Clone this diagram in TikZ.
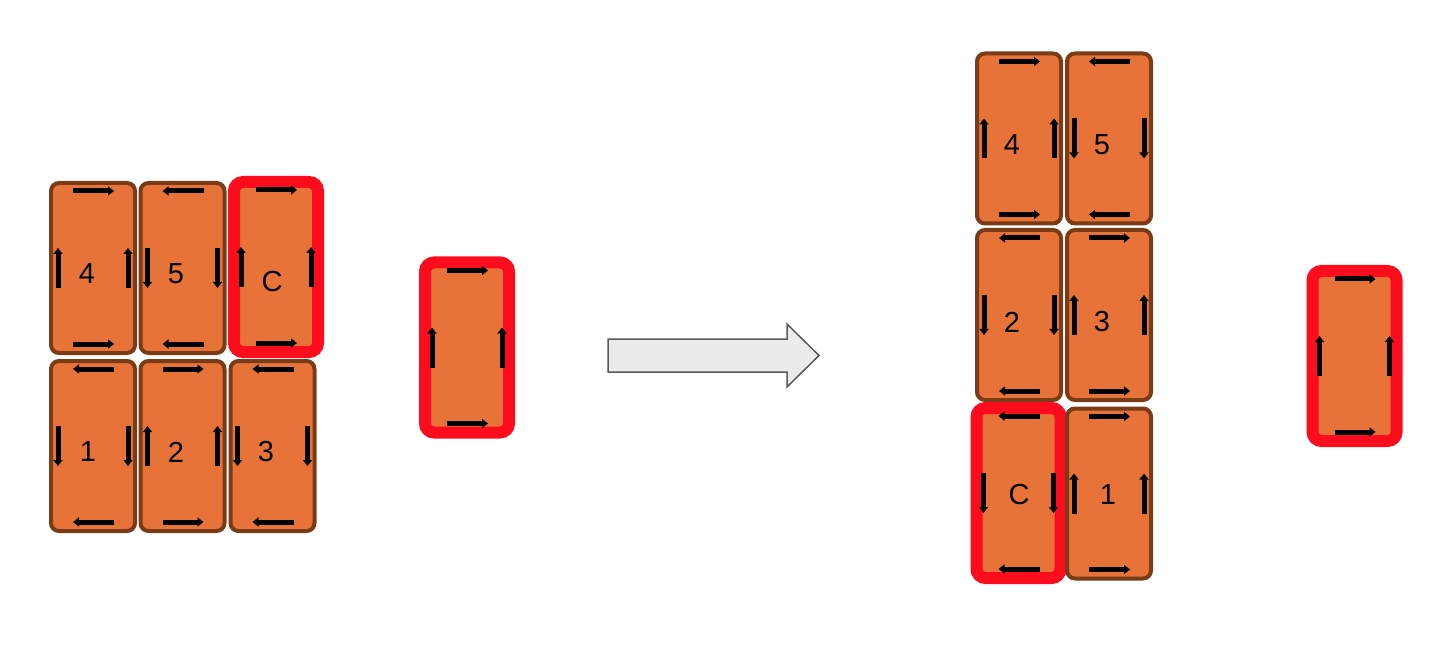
\documentclass[tikz,border=0pt]{standalone}
\usepackage{fontspec}
\setmainfont{Liberation Sans}
\usetikzlibrary{arrows.meta}
\definecolor{tileorange}{RGB}{232,115,56}
\definecolor{tilebrown}{RGB}{122,60,22}
\definecolor{tilered}{RGB}{252,12,28}
\definecolor{shiftgray}{RGB}{235,235,235}

\begin{document}
\begin{tikzpicture}[x=1pt,y=1pt,
				tile/.style={rectangle, rounded corners=8, draw=tilebrown, line width=4, fill=tileorange, minimum width=84, minimum height=170},
				tileC/.style={tile, draw=tilered, line width=12, rounded corners=9},
				flow/.style={line width=5, -{Triangle[length=6pt,width=9pt]}},
				num/.style={font=\fontsize{29}{31}\selectfont},
				shiftarrow/.style={draw=black!65, line width=1.5, fill=shiftgray}]
	\useasboundingbox (0,0) rectangle (1430,649);
	% before
	\node[tile] (L4) at (93,381) {};
	\node[tile] (L5) at (182.5,381) {};
	\node[tileC] (LC) at (276,382) {};
	\node[tile] (L1) at (93,203) {};
	\node[tile] (L2) at (182.5,203) {};
	\node[tile] (L3) at (272.5,203) {};
	\node[tileC] (S) at (467,301.5) {};
	% after
	\node[tile] (R4) at (1019,510.5) {};
	\node[tile] (R5) at (1109,510.5) {};
	\node[tile] (R2) at (1019,334) {};
	\node[tile] (R3) at (1109,334) {};
	\node[tileC] (RC) at (1018.5,156) {};
	\node[tile] (R1) at (1109,155.5) {};
	\node[tileC] (T) at (1354.5,293) {};
	% labels
	\node[num] (nL4) at (87,375) {4};
	\node[num] (nL5) at (176,375) {5};
	\node[num] (nLC) at (272,367) {C};
	\node[num] (nL1) at (88,197) {1};
	\node[num] (nL2) at (176,197) {2};
	\node[num] (nL3) at (266,197) {3};
	\node[num] (nR4) at (1012,504) {4};
	\node[num] (nR5) at (1102,504) {5};
	\node[num] (nR2) at (1012,327) {2};
	\node[num] (nR3) at (1102,327) {3};
	\node[num] (nRC) at (1019,154) {C};
	\node[num] (nR1) at (1108,154) {1};
	% arrows on the tiles
	\foreach \t in {L4,LC,L2,S,R4,R3,R1,T} {
		\draw[flow] ([shift={(-20,77)}]\t.center) -- ([shift={(21,77)}]\t.center);
		\draw[flow] ([shift={(-20,-76)}]\t.center) -- ([shift={(21,-76)}]\t.center);
		\draw[flow] ([shift={(-35,-20)}]\t.center) -- ([shift={(-35,20)}]\t.center);
		\draw[flow] ([shift={(35,-20)}]\t.center) -- ([shift={(35,20)}]\t.center);
	}
	\foreach \t in {L5,L1,L3,R5,R2,RC} {
		\draw[flow] ([shift={(21,77)}]\t.center) -- ([shift={(-20,77)}]\t.center);
		\draw[flow] ([shift={(21,-76)}]\t.center) -- ([shift={(-20,-76)}]\t.center);
		\draw[flow] ([shift={(-35,20)}]\t.center) -- ([shift={(-35,-20)}]\t.center);
		\draw[flow] ([shift={(35,20)}]\t.center) -- ([shift={(35,-20)}]\t.center);
	}
	% big arrow
	\draw[shiftarrow] (608,310) -- (787,310) -- (787,325) -- (819,293.5) -- (787,262) -- (787,277) -- (608,277) -- cycle;
\end{tikzpicture}
\end{document}
